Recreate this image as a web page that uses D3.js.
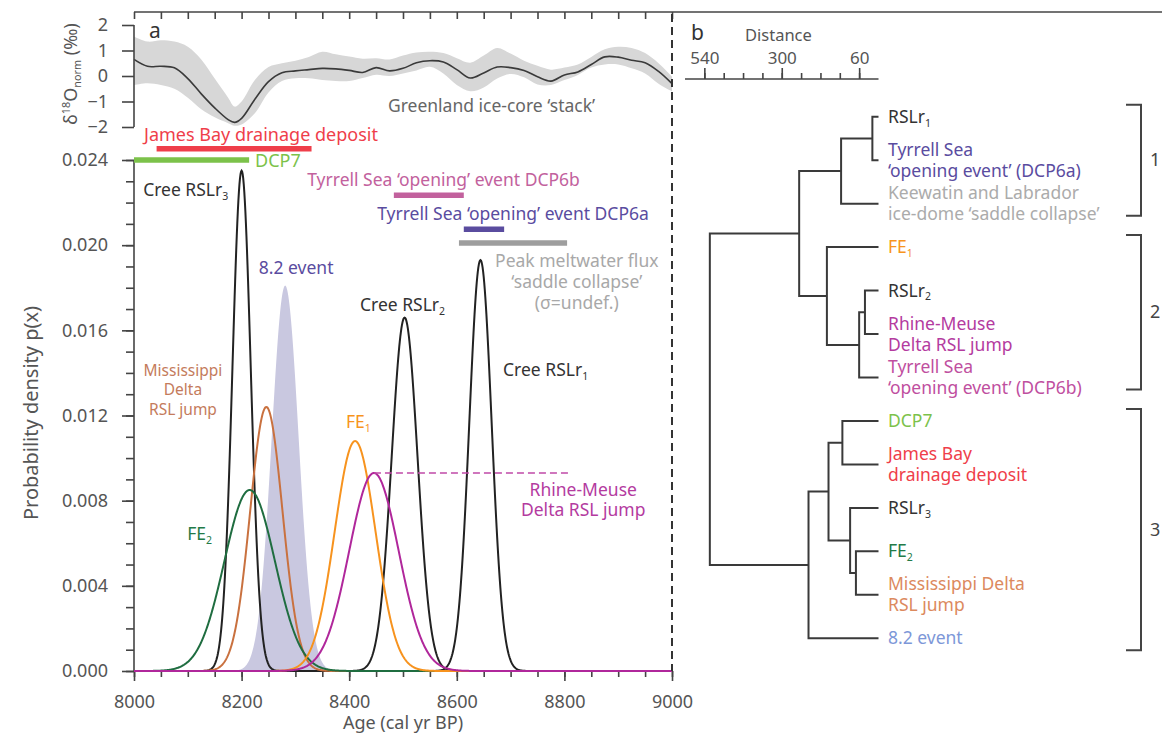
<!DOCTYPE html>
<html><head><meta charset="utf-8">
<script src="https://cdn.jsdelivr.net/npm/d3@7/dist/d3.min.js"></script>
<style>
body{margin:0;background:#fff;}
svg text{font-family:"Noto Sans",sans-serif;}
</style>
</head><body>
<svg id="chart" width="1162" height="733"></svg>
<script>
// ---------------- DATA ----------------
// Panel a, bottom: probability density curves (normal distributions)
const pdfNames  = ["Cree RSLr3","Cree RSLr2","Cree RSLr1","Mississippi Delta RSL jump","FE2","FE1","Rhine-Meuse Delta RSL jump"];
const pdfMeans  = [8200, 8503, 8644, 8246, 8215, 8411, 8446];
const pdfSigmas = [17, 24, 20.7, 30, 47, 38, 46];
const pdfPeaks  = [0.0235, 0.0166, 0.0193, 0.0124, 0.0085, 0.0108, 0.0093];

// 8.2 event (shaded distribution)
const eventMean = 8281;
const eventSigma = 25;
const eventPeak = 0.0181;

// Event age ranges (horizontal bars), vertical level in density units
const barNames  = ["James Bay drainage deposit","DCP7","Tyrrell Sea DCP6b","Tyrrell Sea DCP6a","Peak meltwater flux"];
const barStart  = [8042, 8000, 8483, 8613, 8604];
const barEnd    = [8330, 8214, 8613, 8688, 8805];
const barLevel  = [0.02453, 0.0240, 0.02235, 0.02075, 0.0201];

// Rhine-Meuse dashed extension end (cal yr BP)
const rmDashEnd = 8810;

// Panel a, top: Greenland ice-core stack (d18O norm, per mil)
const stackAges  = [8000,8025,8050,8075,8100,8125,8150,8175,8187,8200,8225,8250,8275,8300,8325,8350,8375,8400,8425,8450,8475,8500,8525,8550,8575,8600,8625,8650,8675,8700,8725,8750,8775,8800,8825,8850,8875,8900,8925,8950,8975,9000];
const stackMid   = [0.65,0.38,0.38,0.32,-0.1,-0.7,-1.25,-1.71,-1.82,-1.66,-0.9,-0.22,0.13,0.2,0.25,0.3,0.28,0.22,0.14,0.33,0.2,0.3,0.52,0.6,0.55,0.25,-0.08,0.12,0.35,0.33,0.22,-0.03,-0.2,0.04,0.16,0.45,0.75,0.74,0.62,0.52,0.18,-0.3];
const stackUpper = [1.55,1.35,1.4,1.35,1.15,0.65,-0.1,-0.85,-1.2,-1.0,-0.15,0.35,0.5,0.6,0.75,0.95,0.85,0.76,0.68,0.7,0.65,0.8,0.92,0.95,0.9,0.7,0.52,0.8,1.1,0.88,0.6,0.4,0.25,0.33,0.45,0.75,1.05,1.15,1.1,0.9,0.5,-0.03];
const stackLower = [-0.35,-0.28,-0.35,-0.5,-0.85,-1.3,-1.62,-1.85,-1.95,-1.9,-1.45,-0.65,-0.2,-0.09,-0.09,-0.16,-0.2,-0.2,-0.08,0.05,0.0,0.1,0.22,0.36,0.1,-0.35,-0.6,-0.45,-0.1,0.08,-0.05,-0.33,-0.35,-0.16,0.04,0.33,0.45,0.45,0.3,0.1,-0.3,-0.6];

// Tick labels
const ageTickLabels = [8000, 8200, 8400, 8600, 8800, 9000];
const ageMinorTicks = [8000,8050,8100,8150,8200,8250,8300,8350,8400,8450,8500,8550,8600,8650,8700,8750,8800,8850,8900,8950,9000];
const densityTickLabels = [0, 0.004, 0.008, 0.012, 0.016, 0.020, 0.024];
const densityMinorTicks = [0,0.001,0.002,0.003,0.004,0.005,0.006,0.007,0.008,0.009,0.010,0.011,0.012,0.013,0.014,0.015,0.016,0.017,0.018,0.019,0.020,0.021,0.022,0.023,0.024];
const isoTickLabels = [-2, -1, 0, 1, 2];
const distanceTickLabels = [540, 300, 60];
const distanceMinorTicks = [540, 480, 420, 360, 300, 240, 180, 120, 60];

// Panel b: dendrogram (leaves top to bottom; merges reference leaf index or 13+merge index)
const leafLabels = ["RSLr_{1}","Tyrrell Sea\n‘opening event’ (DCP6a)","Keewatin and Labrador\nice-dome ‘saddle collapse’","FE_{1}","RSLr_{2}","Rhine-Meuse\nDelta RSL jump","Tyrrell Sea\n‘opening event’ (DCP6b)","DCP7","James Bay\ndrainage deposit","RSLr_{3}","FE_{2}","Mississippi Delta\nRSL jump","8.2 event"];
const mergeA = [0, 13, 4, 15, 3, 14, 7, 10, 9, 19, 22, 18];
const mergeB = [1, 2, 5, 6, 16, 17, 8, 11, 20, 21, 12, 23];
const mergeDistance = [19, 116, 42, 60, 160, 246, 112, 70, 88, 155, 217, 523];
const clusterNames = ["1","2","3"];
const clusterFirst = [0, 3, 7];
const clusterLast  = [2, 6, 12];

// ---------------- STYLES ----------------
const pdfColors = ["#222","#222","#222","#c9713f","#1f6d40","#f7931e","#b0279b"];
const barColors = ["#ef3e4a","#7cc24a","#c2619d","#5a4c9f","#9e9e9e"];
const leafColors = ["#333","#5a4c9f","#ababab","#f7941d","#333","#b43b9f","#bf4f9f","#7cc24a","#ef3e4a","#333","#237a47","#dc8a5e","#7d97d8"];
const AX = "#444", TX = "#555";

// ---------------- SCALES ----------------
const svg = d3.select("#chart");
const x = d3.scaleLinear().domain([8000, 9000]).range([134, 672]);
const y = d3.scaleLinear().domain([0, 0.024]).range([671, 160]);
const yIso = d3.scaleLinear().domain([-2, 2]).range([127, 25]);
const xd = d3.scaleLinear().domain([600, 0]).range([685, 878.5]);
const yLeaf = d3.scaleLinear().domain([0, 12]).range([116.7, 638.3]);

// rich text helper: _{sub} and ^{sup}; multiple lines in one <text>
function richLines(t, str, size, px, lh) {
  let cur = 0;
  str.split("\n").forEach((line, li) => {
    const parts = line.split(/(_\{[^}]*\}|\^\{[^}]*\})/).filter(s => s.length);
    parts.forEach((p, pi) => {
      let off = 0, fs = size, txt = p;
      if (p.startsWith("_{")) { txt = p.slice(2, -1); fs = size * 0.6; off = size * 0.22; }
      else if (p.startsWith("^{")) { txt = p.slice(2, -1); fs = size * 0.6; off = -size * 0.4; }
      const ts = t.append("tspan").attr("font-size", fs).text(txt);
      let dy = off - cur;
      if (pi === 0 && li > 0) { ts.attr("x", px); dy += lh; }
      if (dy !== 0) ts.attr("dy", dy);
      cur = off;
    });
  });
}
function label(px, py, str, color, opts = {}) {
  const size = opts.size || 17.5, lh = opts.lh || 20, anchor = opts.anchor || "start";
  const t = svg.append("text").attr("x", px).attr("y", py)
    .attr("fill", color).attr("font-size", size).attr("text-anchor", anchor);
  richLines(t, str, size, px, lh);
  return t;
}

// ---------------- PANEL A TOP: Greenland stack ----------------
const stack = stackAges.map((a, i) => ({a, m: stackMid[i], u: stackUpper[i], l: stackLower[i]}));
svg.append("path").datum(stack)
  .attr("d", d3.area().x(d => x(d.a)).y0(d => yIso(d.l)).y1(d => yIso(d.u)).curve(d3.curveCatmullRom))
  .attr("fill", "#d7d7d7");
svg.append("path").datum(stack)
  .attr("d", d3.line().x(d => x(d.a)).y(d => yIso(d.m)).curve(d3.curveCatmullRom))
  .attr("fill", "none").attr("stroke", "#3a3a3a").attr("stroke-width", 1.6);

// top frame line + ticks
svg.append("line").attr("x1", x(8000)).attr("x2", 1162).attr("y1", 12).attr("y2", 12)
  .attr("stroke", AX).attr("stroke-width", 1.6);
const gTop = svg.append("g").attr("transform", "translate(0,12)")
  .call(d3.axisBottom(x).tickValues(ageMinorTicks).tickSize(7).tickFormat(""));
gTop.select(".domain").remove();

// iso y axis
const gIso = svg.append("g").attr("transform", `translate(${x(8000)},0)`)
  .call(d3.axisLeft(yIso).tickValues(isoTickLabels).tickSize(12).tickPadding(14).tickFormat(d3.format("d")));
gIso.select(".domain").attr("d", `M0,${yIso(-2)}V${yIso(2)}`);

// ---------------- PANEL A BOTTOM ----------------
const grid = d3.range(8000, 9000.5, 1);
const gauss = (a, mu, s, pk) => pk * Math.exp(-0.5 * ((a - mu) / s) ** 2);

// 8.2 event shaded
svg.append("path").datum(grid)
  .attr("d", d3.area().x(a => x(a)).y0(y(0)).y1(a => y(gauss(a, eventMean, eventSigma, eventPeak))))
  .attr("fill", "#c9c8e0");

// density axes
const gxMinor = svg.append("g").attr("transform", `translate(0,${y(0)})`)
  .call(d3.axisBottom(x).tickValues(ageMinorTicks).tickSize(6).tickFormat(""));
gxMinor.select(".domain").remove();
const gx = svg.append("g").attr("transform", `translate(0,${y(0)})`)
  .call(d3.axisBottom(x).tickValues(ageTickLabels).tickSize(10).tickPadding(14).tickFormat(d3.format("d")));
gx.select(".domain").attr("d", `M${x(8000)},0H${x(9000)}`);

const gyMinor = svg.append("g").attr("transform", `translate(${x(8000)},0)`)
  .call(d3.axisLeft(y).tickValues(densityMinorTicks).tickSize(8).tickFormat(""));
gyMinor.select(".domain").remove();
const gy = svg.append("g").attr("transform", `translate(${x(8000)},0)`)
  .call(d3.axisLeft(y).tickValues(densityTickLabels).tickSize(12).tickPadding(14).tickFormat(d3.format(".3f")));
gy.select(".domain").attr("d", `M0,${y(0)}V${y(0.024)}`);

// style axes
svg.selectAll(".tick line").attr("stroke", AX).attr("stroke-width", 1.6);
svg.selectAll(".domain").attr("stroke", AX).attr("stroke-width", 1.6);
svg.selectAll(".tick text").attr("fill", TX).attr("font-size", 18).attr("font-family", '"Noto Sans",sans-serif');

// pdf curves
pdfNames.forEach((n, i) => {
  svg.append("path").datum(grid)
    .attr("d", d3.line().x(a => x(a)).y(a => y(gauss(a, pdfMeans[i], pdfSigmas[i], pdfPeaks[i]))))
    .attr("fill", "none").attr("stroke", pdfColors[i]).attr("stroke-width", 2);
});

// Rhine-Meuse dashed extension
svg.append("line").attr("x1", x(pdfMeans[6])).attr("x2", x(rmDashEnd))
  .attr("y1", y(pdfPeaks[6])).attr("y2", y(pdfPeaks[6]))
  .attr("stroke", "#c04aa8").attr("stroke-width", 1.6).attr("stroke-dasharray", "7,4");

// event bars
barNames.forEach((n, i) => {
  svg.append("line").attr("x1", x(barStart[i])).attr("x2", x(barEnd[i]))
    .attr("y1", y(barLevel[i])).attr("y2", y(barLevel[i]))
    .attr("stroke", barColors[i]).attr("stroke-width", 5.5);
});

// dashed separator
svg.append("line").attr("x1", x(9000)).attr("x2", x(9000)).attr("y1", 14).attr("y2", y(0))
  .attr("stroke", "#333").attr("stroke-width", 2).attr("stroke-dasharray", "8,5");

// panel a annotations (positioned in data space)
label(x(8236), y(0.02489), "James Bay drainage deposit", "#ef3e4a", {anchor: "middle", size: 18});
label(x(8225), y(0.02367), "DCP7", "#7cc24a", {size: 18});
label(x(8322), y(0.02278), "Tyrrell Sea ‘opening’ event DCP6b", "#c2619d");
label(x(8452), y(0.02118), "Tyrrell Sea ‘opening’ event DCP6a", "#5a4c9f");
label(x(8823), y(0.01898), "Peak meltwater flux\n‘saddle collapse’\n(σ=undef.)", "#a8a8a8", {anchor: "middle", lh: 21});
label(x(8017), y(0.02231), "Cree RSLr_{3}", "#333");
label(x(8232), y(0.01865), "8.2 event", "#5a4c9f");
label(x(8420), y(0.01691), "Cree RSLr_{2}", "#333");
label(x(8686), y(0.01386), "Cree RSLr_{1}", "#333");
label(x(8091), y(0.01386), "Mississippi\nDelta\nRSL jump", "#c47b5c", {anchor: "middle", lh: 19.5, size: 15.5});
label(x(8394), y(0.01141), "FE_{1}", "#f7941d");
label(x(8099), y(0.00615), "FE_{2}", "#237a47");
label(x(8835), y(0.00822), "Rhine-Meuse\nDelta RSL jump", "#b43b9f", {anchor: "middle", lh: 20});
label(x(8472), yIso(-1.41), "Greenland ice-core ‘stack’", "#666");

// axis titles
svg.append("text").attr("transform", "translate(38,413) rotate(-90)").attr("text-anchor", "middle")
  .attr("fill", TX).attr("font-size", 20).text("Probability density p(x)");
svg.append("text").attr("x", x(8500)).attr("y", 729).attr("text-anchor", "middle")
  .attr("fill", TX).attr("font-size", 18).text("Age (cal yr BP)");
{
  const t = svg.append("text").attr("transform", "translate(77,74) rotate(-90)").attr("text-anchor", "middle")
    .attr("fill", TX).attr("font-size", 18);
  richLines(t, "δ^{18}O_{norm} (‰)", 18, 0, 0);
}
svg.append("text").attr("x", 149).attr("y", 38).attr("fill", "#333").attr("font-size", 21).text("a");
svg.append("text").attr("x", 691).attr("y", 40).attr("fill", "#333").attr("font-size", 21).text("b");

// ---------------- PANEL B: dendrogram ----------------
const gDist = svg.append("g").attr("transform", "translate(0,79)");
gDist.call(d3.axisTop(xd).tickValues(distanceMinorTicks).tickSize(6).tickFormat(""));
gDist.select(".domain").remove();
const gDist2 = svg.append("g").attr("transform", "translate(0,79)")
  .call(d3.axisTop(xd).tickValues(distanceTickLabels).tickSize(11).tickPadding(4).tickFormat(d3.format("d")));
gDist2.select(".domain").attr("d", `M${xd(600)},0H${xd(0)}`);
[gDist, gDist2].forEach(g => {
  g.selectAll(".tick line").attr("stroke", AX).attr("stroke-width", 1.6);
  g.selectAll(".domain").attr("stroke", AX).attr("stroke-width", 1.6);
  g.selectAll(".tick text").attr("fill", TX).attr("font-size", 17).attr("font-family", '"Noto Sans",sans-serif');
});
svg.append("text").attr("x", 745).attr("y", 41).attr("fill", TX).attr("font-size", 16.5).text("Distance");

// node positions
const nodeY = leafLabels.map((l, i) => yLeaf(i));
const nodeD = leafLabels.map(() => 0);
mergeA.forEach((a, k) => {
  nodeY.push((nodeY[a] + nodeY[mergeB[k]]) / 2);
  nodeD.push(mergeDistance[k]);
});
const gTree = svg.append("g").attr("stroke", "#3a3a3a").attr("stroke-width", 2).attr("fill", "none");
mergeA.forEach((a, k) => {
  const b = mergeB[k], d = mergeDistance[k];
  const p = d3.path();
  p.moveTo(xd(nodeD[a]), nodeY[a]);
  p.lineTo(xd(d), nodeY[a]);
  p.lineTo(xd(d), nodeY[b]);
  p.lineTo(xd(nodeD[b]), nodeY[b]);
  gTree.append("path").attr("d", p.toString());
});

// leaf labels
leafLabels.forEach((l, i) => {
  const lines = l.split("\n").length;
  const lh = 21;
  const baseY = yLeaf(i) + 6 - (lines - 1) * lh / 2;
  label(xd(0) + 9.5, baseY, l, leafColors[i], {lh});
});

// cluster brackets
clusterNames.forEach((c, i) => {
  const y1 = yLeaf(clusterFirst[i]) - 12, y2 = yLeaf(clusterLast[i]) + 12;
  svg.append("path").attr("d", `M1126,${y1}H1141V${y2}H1126`)
    .attr("fill", "none").attr("stroke", "#444").attr("stroke-width", 2);
  svg.append("text").attr("x", 1150).attr("y", (y1 + y2) / 2 + 6).attr("fill", "#444")
    .attr("font-size", 18).text(c);
});
</script>
</body></html>
